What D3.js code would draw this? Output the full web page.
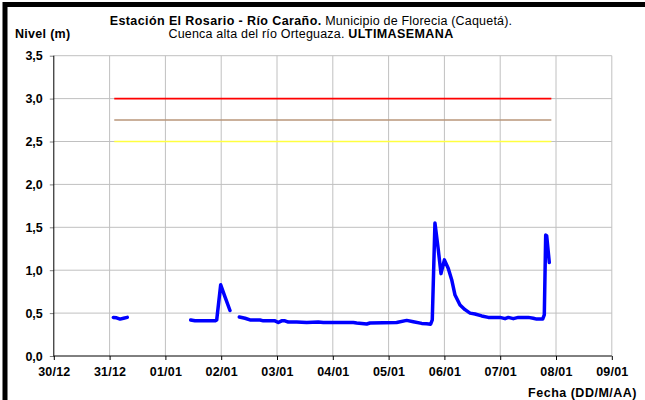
<!DOCTYPE html>
<html><head><meta charset="utf-8">
<script src="https://cdn.jsdelivr.net/npm/d3@7"></script>
<style>
body{margin:0;background:#fff}
svg{display:block;font-family:"Liberation Sans",Arial,sans-serif}
</style>
</head><body>
<svg id="c" width="645" height="400"></svg>
<script>
// ---- DATA ----
const fechas = [
 "2013-12-31T01:36","2013-12-31T03:00","2013-12-31T04:30","2013-12-31T06:00","2013-12-31T07:36",
 "2013-12-31T18:00",
 "2014-01-01T10:53","2014-01-01T12:44","2014-01-01T21:20","2014-01-01T22:04","2014-01-01T23:47",
 "2014-01-02T01:38","2014-01-02T03:47",
 "2014-01-02T05:40",
 "2014-01-02T07:48","2014-01-02T10:15","2014-01-02T12:23","2014-01-02T16:41","2014-01-02T18:07",
 "2014-01-02T23:08","2014-01-03T00:34","2014-01-03T02:00","2014-01-03T03:26","2014-01-03T04:52",
 "2014-01-03T08:28","2014-01-03T12:46","2014-01-03T17:46","2014-01-03T19:55","2014-01-04T08:49",
 "2014-01-04T10:17","2014-01-04T14:35","2014-01-04T16:00","2014-01-05T03:28","2014-01-05T07:47",
 "2014-01-05T10:38","2014-01-05T14:14","2014-01-05T16:22","2014-01-05T18:05","2014-01-05T18:47",
 "2014-01-05T19:56","2014-01-05T21:22","2014-01-05T22:32","2014-01-06T00:00","2014-01-06T01:40",
 "2014-01-06T03:08","2014-01-06T04:34","2014-01-06T06:43","2014-01-06T08:52","2014-01-06T11:01",
 "2014-01-06T13:10","2014-01-06T16:03","2014-01-06T18:53","2014-01-06T23:55","2014-01-07T02:04",
 "2014-01-07T03:29","2014-01-07T05:38","2014-01-07T07:47","2014-01-07T12:05","2014-01-07T14:14",
 "2014-01-07T15:41","2014-01-07T18:16","2014-01-07T18:58","2014-01-07T19:34","2014-01-07T20:00",
 "2014-01-07T21:07"
];
const niveles = [
 0.45,0.445,0.43,0.44,0.45,
 null,
 0.42,0.41,0.41,0.42,0.83,
 0.69,0.53,
 null,
 0.455,0.44,0.42,0.42,0.41,
 0.41,0.39,0.41,0.41,0.395,
 0.395,0.39,0.395,0.39,0.39,
 0.385,0.373,0.385,0.39,0.415,
 0.40,0.38,0.375,0.37,0.42,
 1.55,1.24,0.96,1.12,1.02,
 0.89,0.71,0.595,0.54,0.50,
 0.49,0.467,0.45,0.45,0.435,
 0.45,0.435,0.45,0.45,0.44,
 0.43,0.43,0.48,1.41,1.40,
 1.09
];
const umbrales = [3.0, 2.75, 2.5];
const umbralColores = ["#ff0000", "#b9967a", "#ffff40"];
const umbralInicio = "2013-12-31T02:00";
const umbralFin = "2014-01-07T22:00";
const fechaDominio = ["2013-12-30T00:00", "2014-01-09T00:00"];
const nivelTicks = [0, 0.5, 1.0, 1.5, 2.0, 2.5, 3.0, 3.5];

// ---- CHART ----
const svg = d3.select("#c");
const parse = d3.timeParse("%Y-%m-%dT%H:%M");
const X0 = 53.8, X1 = 611.8, Y0 = 356, Y1 = 55.7;
const x = d3.scaleTime().domain(fechaDominio.map(parse)).range([X0, X1]);
const y = d3.scaleLinear().domain([0, 3.5]).range([Y0, Y1]);

svg.append("rect").attr("width", 645).attr("height", 400).attr("fill", "#fff");
// outer frame
svg.append("rect").attr("x", 5).attr("y", 4.5).attr("width", 700).attr("height", 500)
  .attr("fill", "none").attr("stroke", "#000").attr("stroke-width", 5);

const days = d3.timeDay.range(x.domain()[0], d3.timeDay.offset(x.domain()[1], 1));
// grid
const grid = svg.append("g").attr("stroke", "#c0c0c0").attr("stroke-width", 1);
grid.selectAll("line.h").data(nivelTicks.filter(d => d > 0)).join("line")
  .attr("x1", X0).attr("x2", X1).attr("y1", d => y(d)).attr("y2", d => y(d));
grid.selectAll("line.v").data(days.slice(1)).join("line")
  .attr("y1", Y0).attr("y2", Y1).attr("x1", d => x(d)).attr("x2", d => x(d));

// thresholds
umbrales.forEach((u, i) => {
  svg.append("line")
    .attr("x1", x(parse(umbralInicio))).attr("x2", x(parse(umbralFin)))
    .attr("y1", y(u)).attr("y2", y(u))
    .attr("stroke", umbralColores[i]).attr("stroke-width", 1.6);
});

// axes
const fmtY = d => d3.format(".1f")(d).replace(".", ",");
const yAxis = svg.append("g").attr("transform", `translate(${X0},0)`)
  .call(d3.axisLeft(y).tickValues(nivelTicks).tickSize(4).tickPadding(7).tickFormat(fmtY));
yAxis.select(".domain").remove();
yAxis.selectAll("line").attr("stroke", "#808080");
yAxis.selectAll("text").attr("font-size", "12.5px").attr("font-weight", "bold")
  .attr("font-family", "Liberation Sans, Arial, sans-serif").attr("fill", "#000");

const xAxis = svg.append("g").attr("transform", `translate(0,${Y0})`)
  .call(d3.axisBottom(x).tickValues(days).tickSize(4).tickPadding(7).tickFormat(d3.timeFormat("%d/%m")));
xAxis.select(".domain").remove();
xAxis.selectAll("line").attr("stroke", "#000");
xAxis.selectAll("text").attr("font-size", "12.5px").attr("font-weight", "bold")
  .attr("font-family", "Liberation Sans, Arial, sans-serif").attr("fill", "#000")
  .attr("letter-spacing", "0.2px");

svg.append("line").attr("x1", X0).attr("x2", X0).attr("y1", Y1).attr("y2", Y0 + 0.5)
  .attr("stroke", "#000").attr("stroke-width", 1);
svg.append("line").attr("x1", X0).attr("x2", X1).attr("y1", Y0).attr("y2", Y0)
  .attr("stroke", "#000").attr("stroke-width", 1);

// data line
const datos = fechas.map((f, i) => ({ t: parse(f), v: niveles[i] }));
svg.append("path").datum(datos)
  .attr("fill", "none").attr("stroke", "#0000ff").attr("stroke-width", 3.5)
  .attr("stroke-linejoin", "round").attr("stroke-linecap", "round")
  .attr("d", d3.line().defined(d => d.v != null).x(d => x(d.t)).y(d => y(d.v)));

// titles
const t1 = svg.append("text").attr("x", 311).attr("y", 24.5).attr("text-anchor", "middle")
  .attr("font-size", "12.5px");
t1.append("tspan").attr("font-weight", "bold").attr("letter-spacing", "0.4px").text("Estación El Rosario - Río Caraño.");
t1.append("tspan").attr("letter-spacing", "0.2px").text(" Municipio de Florecia (Caquetá).");
const t2 = svg.append("text").attr("x", 311).attr("y", 37.5).attr("text-anchor", "middle")
  .attr("font-size", "12.5px");
t2.append("tspan").attr("letter-spacing", "0.2px").text("Cuenca alta del río Orteguaza. ");
t2.append("tspan").attr("font-weight", "bold").attr("letter-spacing", "0.4px").text("ULTIMASEMANA");

svg.append("text").attr("x", 15).attr("y", 37.5).attr("font-size", "12.5px")
  .attr("font-weight", "bold").attr("letter-spacing", "0.3px").text("Nivel (m)");
svg.append("text").attr("x", 637).attr("y", 397).attr("text-anchor", "end")
  .attr("font-size", "12.5px").attr("font-weight", "bold").attr("letter-spacing", "0.5px")
  .text("Fecha (DD/M/AA)");
</script>
</body></html>
